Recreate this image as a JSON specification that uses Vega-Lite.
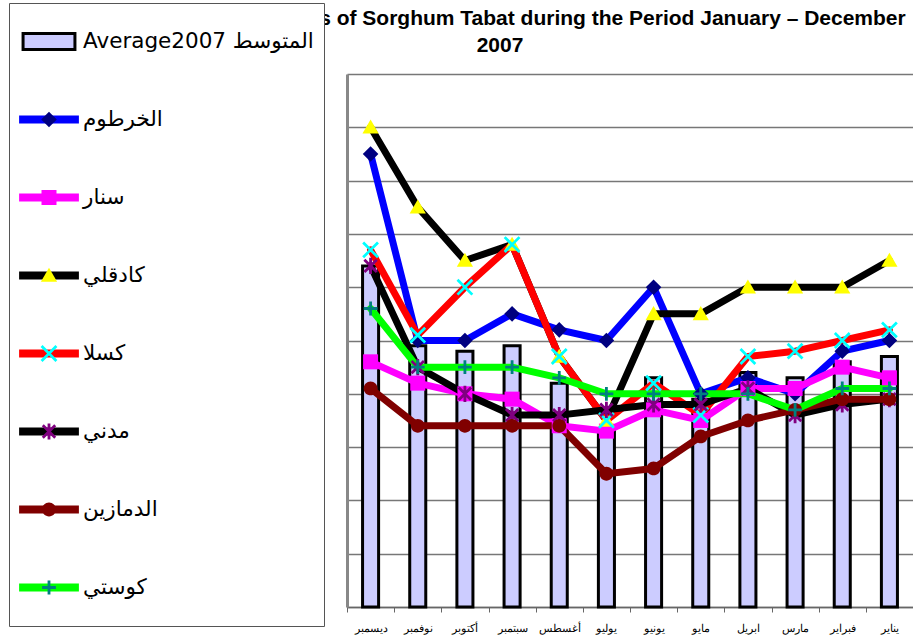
{
  "$schema": "https://vega.github.io/schema/vega-lite/v6.json",
  "width": 566,
  "height": 533,
  "autosize": {"type": "none"},
  "padding": {"left": 347, "top": 74, "right": 0, "bottom": 33},
  "background": "white",
  "config": {"view": {"stroke": null}, "font": "Liberation Sans"},
  "title": {
    "text": ["Monthly Average Prices of Sorghum Tabat during the Period January – December", "2007"],
    "font": "Liberation Sans",
    "fontSize": 21,
    "fontWeight": "bold",
    "color": "black",
    "anchor": "middle",
    "frame": "group",
    "dx": -130,
    "dy": 53,
    "offset": 0,
    "lineHeight": 27
  },
  "data": {
    "values": [
      {"month": "ديسمبر", "m": 12, "series": "Average2007 المتوسط", "key": "Average", "value": 64},
      {"month": "نوفمبر", "m": 11, "series": "Average2007 المتوسط", "key": "Average", "value": 49},
      {"month": "أكتوبر", "m": 10, "series": "Average2007 المتوسط", "key": "Average", "value": 48},
      {"month": "سبتمبر", "m": 9, "series": "Average2007 المتوسط", "key": "Average", "value": 49},
      {"month": "أغسطس", "m": 8, "series": "Average2007 المتوسط", "key": "Average", "value": 42},
      {"month": "يوليو", "m": 7, "series": "Average2007 المتوسط", "key": "Average", "value": 33},
      {"month": "يونيو", "m": 6, "series": "Average2007 المتوسط", "key": "Average", "value": 43},
      {"month": "مايو", "m": 5, "series": "Average2007 المتوسط", "key": "Average", "value": 39},
      {"month": "ابريل", "m": 4, "series": "Average2007 المتوسط", "key": "Average", "value": 44},
      {"month": "مارس", "m": 3, "series": "Average2007 المتوسط", "key": "Average", "value": 43},
      {"month": "فبراير", "m": 2, "series": "Average2007 المتوسط", "key": "Average", "value": 46},
      {"month": "يناير", "m": 1, "series": "Average2007 المتوسط", "key": "Average", "value": 47},

      {"month": "ديسمبر", "m": 12, "series": "الخرطوم", "key": "Khartoum", "value": 85},
      {"month": "نوفمبر", "m": 11, "series": "الخرطوم", "key": "Khartoum", "value": 50},
      {"month": "أكتوبر", "m": 10, "series": "الخرطوم", "key": "Khartoum", "value": 50},
      {"month": "سبتمبر", "m": 9, "series": "الخرطوم", "key": "Khartoum", "value": 55},
      {"month": "أغسطس", "m": 8, "series": "الخرطوم", "key": "Khartoum", "value": 52},
      {"month": "يوليو", "m": 7, "series": "الخرطوم", "key": "Khartoum", "value": 50},
      {"month": "يونيو", "m": 6, "series": "الخرطوم", "key": "Khartoum", "value": 60},
      {"month": "مايو", "m": 5, "series": "الخرطوم", "key": "Khartoum", "value": 40},
      {"month": "ابريل", "m": 4, "series": "الخرطوم", "key": "Khartoum", "value": 43},
      {"month": "مارس", "m": 3, "series": "الخرطوم", "key": "Khartoum", "value": 40},
      {"month": "فبراير", "m": 2, "series": "الخرطوم", "key": "Khartoum", "value": 48},
      {"month": "يناير", "m": 1, "series": "الخرطوم", "key": "Khartoum", "value": 50},

      {"month": "ديسمبر", "m": 12, "series": "سنار", "key": "Sennar", "value": 46},
      {"month": "نوفمبر", "m": 11, "series": "سنار", "key": "Sennar", "value": 42},
      {"month": "أكتوبر", "m": 10, "series": "سنار", "key": "Sennar", "value": 40},
      {"month": "سبتمبر", "m": 9, "series": "سنار", "key": "Sennar", "value": 39},
      {"month": "أغسطس", "m": 8, "series": "سنار", "key": "Sennar", "value": 34},
      {"month": "يوليو", "m": 7, "series": "سنار", "key": "Sennar", "value": 33},
      {"month": "يونيو", "m": 6, "series": "سنار", "key": "Sennar", "value": 37},
      {"month": "مايو", "m": 5, "series": "سنار", "key": "Sennar", "value": 35},
      {"month": "ابريل", "m": 4, "series": "سنار", "key": "Sennar", "value": 41},
      {"month": "مارس", "m": 3, "series": "سنار", "key": "Sennar", "value": 41},
      {"month": "فبراير", "m": 2, "series": "سنار", "key": "Sennar", "value": 45},
      {"month": "يناير", "m": 1, "series": "سنار", "key": "Sennar", "value": 43},

      {"month": "ديسمبر", "m": 12, "series": "كادقلي", "key": "Kadugli", "value": 90},
      {"month": "نوفمبر", "m": 11, "series": "كادقلي", "key": "Kadugli", "value": 75},
      {"month": "أكتوبر", "m": 10, "series": "كادقلي", "key": "Kadugli", "value": 65},
      {"month": "سبتمبر", "m": 9, "series": "كادقلي", "key": "Kadugli", "value": 68},
      {"month": "أغسطس", "m": 8, "series": "كادقلي", "key": "Kadugli", "value": 47},
      {"month": "يوليو", "m": 7, "series": "كادقلي", "key": "Kadugli", "value": 35},
      {"month": "يونيو", "m": 6, "series": "كادقلي", "key": "Kadugli", "value": 55},
      {"month": "مايو", "m": 5, "series": "كادقلي", "key": "Kadugli", "value": 55},
      {"month": "ابريل", "m": 4, "series": "كادقلي", "key": "Kadugli", "value": 60},
      {"month": "مارس", "m": 3, "series": "كادقلي", "key": "Kadugli", "value": 60},
      {"month": "فبراير", "m": 2, "series": "كادقلي", "key": "Kadugli", "value": 60},
      {"month": "يناير", "m": 1, "series": "كادقلي", "key": "Kadugli", "value": 65},

      {"month": "ديسمبر", "m": 12, "series": "كسلا", "key": "Kassala", "value": 67},
      {"month": "نوفمبر", "m": 11, "series": "كسلا", "key": "Kassala", "value": 51},
      {"month": "أكتوبر", "m": 10, "series": "كسلا", "key": "Kassala", "value": 60},
      {"month": "سبتمبر", "m": 9, "series": "كسلا", "key": "Kassala", "value": 68},
      {"month": "أغسطس", "m": 8, "series": "كسلا", "key": "Kassala", "value": 47},
      {"month": "يوليو", "m": 7, "series": "كسلا", "key": "Kassala", "value": 35},
      {"month": "يونيو", "m": 6, "series": "كسلا", "key": "Kassala", "value": 42},
      {"month": "مايو", "m": 5, "series": "كسلا", "key": "Kassala", "value": 36},
      {"month": "ابريل", "m": 4, "series": "كسلا", "key": "Kassala", "value": 47},
      {"month": "مارس", "m": 3, "series": "كسلا", "key": "Kassala", "value": 48},
      {"month": "فبراير", "m": 2, "series": "كسلا", "key": "Kassala", "value": 50},
      {"month": "يناير", "m": 1, "series": "كسلا", "key": "Kassala", "value": 52},

      {"month": "ديسمبر", "m": 12, "series": "مدني", "key": "Madani", "value": 64},
      {"month": "نوفمبر", "m": 11, "series": "مدني", "key": "Madani", "value": 45},
      {"month": "أكتوبر", "m": 10, "series": "مدني", "key": "Madani", "value": 40},
      {"month": "سبتمبر", "m": 9, "series": "مدني", "key": "Madani", "value": 36},
      {"month": "أغسطس", "m": 8, "series": "مدني", "key": "Madani", "value": 36},
      {"month": "يوليو", "m": 7, "series": "مدني", "key": "Madani", "value": 37},
      {"month": "يونيو", "m": 6, "series": "مدني", "key": "Madani", "value": 38},
      {"month": "مايو", "m": 5, "series": "مدني", "key": "Madani", "value": 38},
      {"month": "ابريل", "m": 4, "series": "مدني", "key": "Madani", "value": 41},
      {"month": "مارس", "m": 3, "series": "مدني", "key": "Madani", "value": 36},
      {"month": "فبراير", "m": 2, "series": "مدني", "key": "Madani", "value": 38},
      {"month": "يناير", "m": 1, "series": "مدني", "key": "Madani", "value": 39},

      {"month": "ديسمبر", "m": 12, "series": "الدمازين", "key": "Damazin", "value": 41},
      {"month": "نوفمبر", "m": 11, "series": "الدمازين", "key": "Damazin", "value": 34},
      {"month": "أكتوبر", "m": 10, "series": "الدمازين", "key": "Damazin", "value": 34},
      {"month": "سبتمبر", "m": 9, "series": "الدمازين", "key": "Damazin", "value": 34},
      {"month": "أغسطس", "m": 8, "series": "الدمازين", "key": "Damazin", "value": 34},
      {"month": "يوليو", "m": 7, "series": "الدمازين", "key": "Damazin", "value": 25},
      {"month": "يونيو", "m": 6, "series": "الدمازين", "key": "Damazin", "value": 26},
      {"month": "مايو", "m": 5, "series": "الدمازين", "key": "Damazin", "value": 32},
      {"month": "ابريل", "m": 4, "series": "الدمازين", "key": "Damazin", "value": 35},
      {"month": "مارس", "m": 3, "series": "الدمازين", "key": "Damazin", "value": 37},
      {"month": "فبراير", "m": 2, "series": "الدمازين", "key": "Damazin", "value": 39},
      {"month": "يناير", "m": 1, "series": "الدمازين", "key": "Damazin", "value": 39},

      {"month": "ديسمبر", "m": 12, "series": "كوستي", "key": "Kosti", "value": 56},
      {"month": "نوفمبر", "m": 11, "series": "كوستي", "key": "Kosti", "value": 45},
      {"month": "أكتوبر", "m": 10, "series": "كوستي", "key": "Kosti", "value": 45},
      {"month": "سبتمبر", "m": 9, "series": "كوستي", "key": "Kosti", "value": 45},
      {"month": "أغسطس", "m": 8, "series": "كوستي", "key": "Kosti", "value": 43},
      {"month": "يوليو", "m": 7, "series": "كوستي", "key": "Kosti", "value": 40},
      {"month": "يونيو", "m": 6, "series": "كوستي", "key": "Kosti", "value": 40},
      {"month": "مايو", "m": 5, "series": "كوستي", "key": "Kosti", "value": 40},
      {"month": "ابريل", "m": 4, "series": "كوستي", "key": "Kosti", "value": 40},
      {"month": "مارس", "m": 3, "series": "كوستي", "key": "Kosti", "value": 37},
      {"month": "فبراير", "m": 2, "series": "كوستي", "key": "Kosti", "value": 41},
      {"month": "يناير", "m": 1, "series": "كوستي", "key": "Kosti", "value": 41}
    ]
  },
  "encoding": {
    "x": {
      "field": "month",
      "type": "nominal",
      "sort": ["ديسمبر", "نوفمبر", "أكتوبر", "سبتمبر", "أغسطس", "يوليو", "يونيو", "مايو", "ابريل", "مارس", "فبراير", "يناير"],
      "scale": {"paddingInner": 0, "paddingOuter": 0},
      "axis": {
        "title": null,
        "labelAngle": 0,
        "labelFont": "Liberation Sans",
        "labelFontSize": 11,
        "labelColor": "black",
        "labelPadding": 10,
        "tickBand": "extent",
        "tickColor": "#666",
        "tickSize": 5,
        "domainColor": "#666",
        "domainWidth": 1.5,
        "grid": false
      }
    },
    "y": {
      "field": "value",
      "type": "quantitative",
      "scale": {"domain": [0, 100], "nice": false},
      "axis": {
        "title": null,
        "labels": false,
        "ticks": false,
        "values": [0, 10, 20, 30, 40, 50, 60, 70, 80, 90, 100],
        "grid": true,
        "gridColor": "#777",
        "gridWidth": 1.5,
        "domainColor": "#888",
        "domainWidth": 3
      }
    }
  },
  "layer": [
    {
      "transform": [{"filter": "datum.key === 'Average'"}],
      "mark": {"type": "bar", "width": {"band": 0.34}, "fill": "#ccccff", "strokeWidth": 3, "opacity": 1, "fillOpacity": 1},
      "encoding": {
        "stroke": {
          "field": "series",
          "type": "nominal",
          "scale": {"domain": ["Average2007 المتوسط"], "range": ["#000000"]},
          "legend": {
            "title": null,
            "orient": "none",
            "legendX": -338,
            "legendY": -71,
            "padding": 10,
            "rowPadding": 21,
            "clipHeight": 57,
            "symbolSize": 3249,
            "symbolOffset": 0,
            "symbolType": "M-0.91,-0.28H0.91V0.28H-0.91Z",
            "symbolFillColor": "#ccccff",
            "symbolStrokeWidth": 3,
            "symbolOpacity": 1,
            "labelOffset": 4,
            "labelFont": "DejaVu Sans",
            "labelFontSize": 21.5,
            "labelExpr": "''",
            "labelOpacity": 0,
            "labelLimit": 400,
            "zindex": 2
          }
        }
      }
    },
    {
      "transform": [{"filter": "datum.key !== 'Average'"}],
      "mark": {"type": "line", "strokeWidth": 7, "strokeJoin": "round", "strokeCap": "round"},
      "encoding": {
        "color": {
          "field": "series",
          "type": "nominal",
          "scale": {
            "domain": ["Average2007 المتوسط", "الخرطوم", "سنار", "كادقلي", "كسلا", "مدني", "الدمازين", "كوستي"],
            "range": ["transparent", "#0000ff", "#ff00ff", "#000000", "#ff0000", "#000000", "#800000", "#00ff00"]
          },
          "legend": {
            "title": null,
            "orient": "none",
            "legendX": -338,
            "legendY": -71,
            "padding": 10,
            "rowPadding": 21,
            "clipHeight": 57,
            "symbolSize": 2704,
            "symbolOffset": 0,
            "symbolType": "M-1.15,0H1.15",
            "symbolStrokeWidth": 8,
            "symbolOpacity": 1,
            "labelOffset": 4,
            "labelFont": "DejaVu Sans",
            "labelFontSize": 21.5,
            "labelColor": "black",
            "labelLimit": 400,
            "strokeColor": "#555",
            "fillColor": "white",
            "zindex": 1
          }
        },
        "order": {"field": "m", "type": "quantitative"}
      }
    },
    {
      "transform": [{"filter": "datum.key !== 'Average'"}],
      "mark": {"type": "point", "filled": true, "size": 3600, "opacity": 1, "strokeWidth": 0},
      "encoding": {
        "fill": {
          "field": "key",
          "type": "nominal",
          "scale": {
            "domain": ["Average", "Khartoum", "Sennar", "Kadugli", "Kassala", "Madani", "Damazin", "Kosti"],
            "range": ["transparent", "#000080", "#ff00ff", "#ffff00", "#00ffff", "#800080", "#800000", "#008080"]
          },
          "legend": {
            "title": null,
            "orient": "none",
            "legendX": -338,
            "legendY": -71,
            "padding": 10,
            "rowPadding": 21,
            "clipHeight": 57,
            "symbolSize": 3600,
            "symbolOffset": 0,
            "symbolStrokeWidth": 0,
            "symbolOpacity": 1,
            "labelOffset": 4,
            "labelFont": "DejaVu Sans",
            "labelFontSize": 21.5,
            "labelExpr": "''",
            "labelOpacity": 0,
            "labelLimit": 400,
            "zindex": 2
          }
        },
        "shape": {
          "field": "key",
          "type": "nominal",
          "scale": {
            "domain": ["Average", "Khartoum", "Sennar", "Kadugli", "Kassala", "Madani", "Damazin", "Kosti"],
            "range": [
              "M0,0Z",
              "M0,-0.26L0.26,0L0,0.26L-0.26,0Z",
              "M-0.25,-0.25H0.25V0.25H-0.25Z",
              "M0,-0.26L0.27,0.21H-0.27Z",
              "M-0.215,-0.28L0.28,0.215L0.215,0.28L-0.28,-0.215ZM-0.28,0.215L0.215,-0.28L0.28,-0.215L-0.215,0.28Z",
              "M-0.174,-0.24L0.24,0.174L0.174,0.24L-0.24,-0.174ZM-0.24,0.174L0.174,-0.24L0.24,-0.174L-0.174,0.24ZM-0.047,-0.27H0.047V0.27H-0.047Z",
              "M-0.23,0A0.23,0.23,0,1,0,0.23,0A0.23,0.23,0,1,0,-0.23,0Z",
              "M-0.047,-0.23H0.047V0.23H-0.047ZM-0.23,-0.047H0.23V0.047H-0.23Z"
            ]
          },
          "legend": {
            "title": null,
            "orient": "none",
            "legendX": -338,
            "legendY": -71,
            "padding": 10,
            "rowPadding": 21,
            "clipHeight": 57,
            "symbolSize": 3600,
            "symbolOffset": 0,
            "symbolStrokeWidth": 0,
            "symbolOpacity": 1,
            "labelOffset": 4,
            "labelFont": "DejaVu Sans",
            "labelFontSize": 21.5,
            "labelExpr": "''",
            "labelOpacity": 0,
            "labelLimit": 400,
            "zindex": 2
          }
        }
      }
    }
  ]
}
